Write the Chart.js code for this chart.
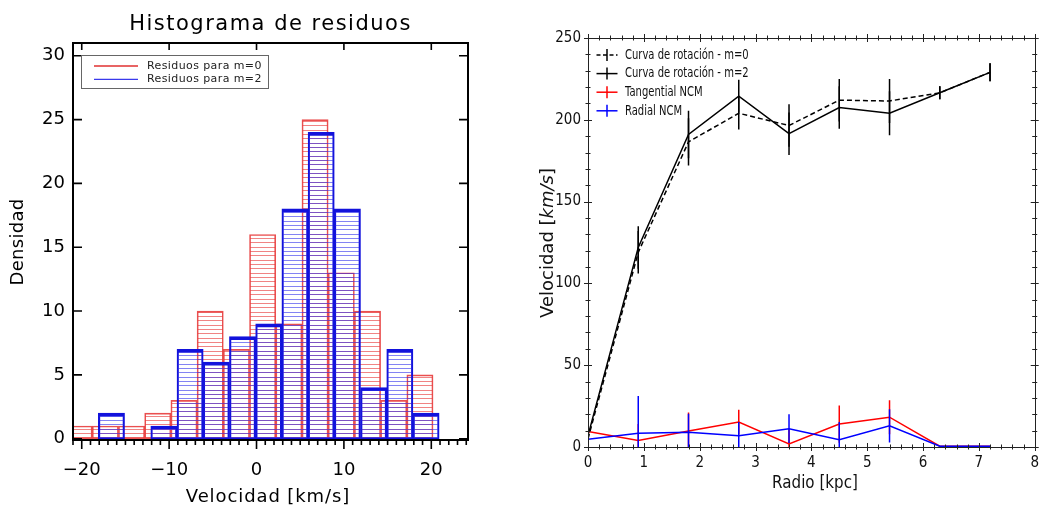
<!DOCTYPE html>
<html>
<head>
<meta charset="utf-8">
<script src="https://cdn.jsdelivr.net/npm/chart.js@4.4.1/dist/chart.umd.min.js"></script>
<style>
  html, body { margin: 0; padding: 0; background: #fff; }
  #wrap { position: relative; width: 1046px; height: 509px; overflow: hidden; }
  #histo { position: absolute; left: 0; top: 0; }
  #curva { position: absolute; left: 520px; top: 0; }
</style>
</head>
<body>
<div id="wrap">
  <canvas id="histo" width="520" height="509"></canvas>
  <canvas id="curva" width="526" height="509"></canvas>
</div>
<script>
/* ---- Histograma de residuos (panel izquierdo) ---- */
const centrosM0 = [-20.3, -17.3, -14.3, -11.3, -8.3, -5.3, -2.3, 0.7, 3.7, 6.7, 9.7, 12.7, 15.7, 18.7];
const densidadM0 = [1, 1, 1, 2, 3, 10, 7, 16, 9, 25, 13, 10, 3, 5];
const centrosM2 = [-16.6, -13.6, -10.6, -7.6, -4.6, -1.6, 1.4, 4.4, 7.4, 10.4, 13.4, 16.4, 19.4];
const densidadM2 = [2, 0, 1, 7, 6, 8, 9, 18, 24, 18, 4, 7, 2];
const ticksResiduo = [-20, -10, 0, 10, 20];
const ticksDensidad = [0, 5, 10, 15, 20, 25, 30];

/* ---- Curva de rotación (panel derecho) ---- */
const radio = [0, 0.9, 1.8, 2.7, 3.6, 4.5, 5.4, 6.3, 7.2];
const vrotM0 = [5, 119, 186.5, 204, 196.5, 212, 211.5, 216.5, 229];
const vrotM2 = [7, 122, 191, 214.5, 191.5, 207.5, 204, 216.5, 229];
const errRotM0 = [0, 13, 14.5, 10, 13, 13, 13.5, 4, 5.5];
const errRotM2 = [0, 13, 14.5, 10, 13, 13, 13.5, 4, 5.5];
const vTangencial = [9.5, 4, 9.8, 15.2, 1.8, 14, 18.2, 0.5, 0.5];
const errTangencial = [24, 10, 11.3, 7.6, 9, 11.4, 10.4, 0, 0];
const vRadial = [4.8, 8.4, 9, 6.9, 11.2, 4.5, 12.9, 0.5, 0.5];
const errRadial = [25.7, 22.8, 11.4, 8.4, 8.8, 10.8, 10.1, 0, 0];
const ticksRadio = [0, 1, 2, 3, 4, 5, 6, 7, 8];
const ticksVelocidad = [0, 50, 100, 150, 200, 250];

const fuente = '"DejaVu Sans", sans-serif';
const fuenteEstrecha = '"DejaVu Sans Condensed", "Liberation Sans Narrow", "DejaVu Sans", sans-serif';
const puntos = (xs, ys) => xs.map((v, i) => ({ x: v, y: ys[i] }));
const fijarTicks = lista => s => { s.ticks = lista.map(v => ({ value: v })); };

// patrón de rayado horizontal para las barras
function rayado(color) {
  const c = document.createElement('canvas');
  c.width = 4; c.height = 13;
  const g = c.getContext('2d');
  g.fillStyle = color;
  [0, 4, 8].forEach(y => g.fillRect(0, y, 4, 1));
  return g.createPattern(c, 'repeat');
}

// ---- marco, marcas, título y leyenda del histograma ----
const marcoHisto = {
  id: 'marcoHisto',
  afterDraw(chart) {
    const { ctx, chartArea: a, scales: { x, y } } = chart;
    ctx.save();
    ctx.strokeStyle = '#000';
    ctx.lineWidth = 2;
    ctx.strokeRect(a.left, a.top, a.width, a.height);
    ctx.lineWidth = 1.6;
    ctx.beginPath();
    for (let v = Math.ceil(x.min); v <= x.max; v++) {
      const px = x.getPixelForValue(v);
      const mayor = ticksResiduo.includes(v);
      ctx.moveTo(px, a.bottom);
      ctx.lineTo(px, a.bottom + (mayor ? 9 : 5));
      if (mayor) { ctx.moveTo(px, a.top); ctx.lineTo(px, a.top + 7); }
    }
    ticksDensidad.forEach(v => {
      const py = y.getPixelForValue(v);
      ctx.moveTo(a.left, py); ctx.lineTo(a.left + 9, py);
      ctx.moveTo(a.right, py); ctx.lineTo(a.right - 9, py);
    });
    ctx.stroke();

    ctx.fillStyle = '#000';
    ctx.textAlign = 'center';
    ctx.textBaseline = 'middle';
    ctx.letterSpacing = '1.5px';
    ctx.font = '21px ' + fuente;
    ctx.fillText('Histograma de residuos', (a.left + a.right) / 2, 25);
    ctx.letterSpacing = '0.9px';
    ctx.font = '18px ' + fuente;
    ctx.fillText('Velocidad [km/s]', 268, 497);
    ctx.letterSpacing = '0.3px';
    ctx.save();
    ctx.translate(18, 242);
    ctx.rotate(-Math.PI / 2);
    ctx.fillText('Densidad', 0, 0);
    ctx.restore();

    // leyenda
    ctx.letterSpacing = '0.4px';
    ctx.strokeStyle = '#666';
    ctx.lineWidth = 1;
    ctx.strokeRect(81.5, 55.5, 187, 33);
    ctx.font = '11px ' + fuente;
    ctx.textAlign = 'left';
    [...chart.data.datasets].reverse().forEach((ds, i) => {
      const yy = 66 + i * 13.3;
      ctx.strokeStyle = ds.colorLeyenda;
      ctx.lineWidth = 1.3;
      ctx.beginPath();
      ctx.moveTo(94, yy); ctx.lineTo(138, yy);
      ctx.stroke();
      ctx.fillStyle = '#222';
      ctx.fillText(ds.label, 147, yy);
    });
    ctx.restore();
  }
};

new Chart(document.getElementById('histo'), {
  type: 'bar',
  data: {
    datasets: [
      {
        label: 'Residuos para m=2', xAxisID: 'x2',
        data: puntos(centrosM2, densidadM2),
        backgroundColor: rayado('rgba(50,50,235,0.6)'),
        borderColor: '#1212dc', colorLeyenda: '#3a3aec',
        borderWidth: { top: 3, left: 1.5, right: 1.5, bottom: 1 },
        borderSkipped: false, grouped: false, clip: 0
      },
      {
        label: 'Residuos para m=0', xAxisID: 'x',
        data: puntos(centrosM0, densidadM0),
        backgroundColor: rayado('rgba(230,50,50,0.6)'),
        borderColor: 'rgba(232,60,60,0.9)', colorLeyenda: '#e03030',
        borderWidth: 1,
        borderSkipped: false, grouped: false, clip: 0
      }
    ]
  },
  options: {
    responsive: false, animation: false,
    barPercentage: 1, categoryPercentage: 1,
    layout: { padding: { top: 43, right: 52, left: 0, bottom: 0 } },
    plugins: { legend: { display: false }, tooltip: { enabled: false } },
    scales: {
      x: {
        type: 'linear', min: -21, max: 24.2, offset: false,
        afterBuildTicks: fijarTicks(ticksResiduo),
        afterFit: s => { s.height = 69; },
        grid: { display: false, drawTicks: false }, border: { display: false },
        ticks: {
          color: '#000', padding: 20, font: { family: fuente, size: 18 },
          callback: v => String(v).replace('-', '\u2212')
        }
      },
      x2: {
        type: 'linear', min: -21, max: 24.2, offset: false, display: false,
        afterBuildTicks: fijarTicks(ticksResiduo)
      },
      y: {
        min: -0.1, max: 31,
        afterBuildTicks: fijarTicks(ticksDensidad),
        afterFit: s => { s.width = 73; },
        grid: { display: false, drawTicks: false }, border: { display: false },
        ticks: { color: '#000', padding: 8, font: { family: fuente, size: 18 } }
      }
    }
  },
  plugins: [marcoHisto]
});

// ---- curva de rotación: barras de error, marco, leyenda y títulos ----
const marcoCurva = {
  id: 'marcoCurva',
  afterDatasetDraw(chart, args) {
    const ds = chart.data.datasets[args.index];
    if (!ds.errores) return;
    const { ctx, chartArea: a, scales: { x, y } } = chart;
    ctx.save();
    ctx.beginPath();
    ctx.rect(a.left, a.top, a.width, a.height);
    ctx.clip();
    ctx.strokeStyle = ds.borderColor;
    ctx.lineWidth = 1.5;
    ctx.beginPath();
    ds.data.forEach((p, i) => {
      const e = ds.errores[i];
      if (!e) return;
      const px = x.getPixelForValue(p.x);
      ctx.moveTo(px, y.getPixelForValue(p.y - e));
      ctx.lineTo(px, y.getPixelForValue(p.y + e));
    });
    ctx.stroke();
    ctx.restore();
  },
  afterDraw(chart) {
    const { ctx, chartArea: a, scales: { x, y } } = chart;
    ctx.save();
    ctx.strokeStyle = '#222';
    ctx.lineWidth = 1;
    ctx.strokeRect(Math.round(a.left) + 0.5, Math.round(a.top) + 0.5, Math.round(a.width), Math.round(a.height));
    ctx.beginPath();
    const nx = Math.round((x.max - x.min) / 0.2);
    for (let k = 0; k <= nx; k++) {
      const px = Math.round(x.getPixelForValue(x.min + k * 0.2)) + 0.5;
      const l = k % 5 === 0 ? 4 : 2.5;
      ctx.moveTo(px, a.bottom - l); ctx.lineTo(px, a.bottom + l);
      ctx.moveTo(px, a.top - l); ctx.lineTo(px, a.top + l);
    }
    const ny = Math.round((y.max - y.min) / 10);
    for (let k = 0; k <= ny; k++) {
      const py = Math.round(y.getPixelForValue(y.min + k * 10)) + 0.5;
      const l = k % 5 === 0 ? 4 : 2.5;
      ctx.moveTo(a.left - l, py); ctx.lineTo(a.left + l, py);
      ctx.moveTo(a.right - l, py); ctx.lineTo(a.right + l, py);
    }
    ctx.stroke();

    // leyenda
    ctx.textAlign = 'left';
    ctx.textBaseline = 'middle';
    ctx.font = '14.5px ' + fuente;
    chart.data.datasets.forEach((ds, i) => {
      const yy = 55 + i * 18.6;
      ctx.strokeStyle = ds.borderColor;
      ctx.lineWidth = 1.5;
      ctx.setLineDash(ds.borderDash ? [4, 2.5] : []);
      ctx.beginPath();
      ctx.moveTo(76.5, yy); ctx.lineTo(97.5, yy);
      ctx.stroke();
      ctx.setLineDash([]);
      ctx.beginPath();
      ctx.moveTo(87, yy - 6); ctx.lineTo(87, yy + 6);
      ctx.stroke();
      ctx.fillStyle = '#111';
      ctx.save();
      ctx.translate(105, yy);
      ctx.scale(0.69, 1);
      ctx.fillText(ds.label, 0, 0);
      ctx.restore();
    });

    // títulos de ejes
    ctx.fillStyle = '#111';
    ctx.textAlign = 'center';
    ctx.save();
    ctx.translate(295, 483);
    ctx.scale(0.84, 1);
    ctx.font = '18px ' + fuente;
    ctx.fillText('Radio [kpc]', 0, 0);
    ctx.restore();

    const partes = [['Velocidad [', '18px '], ['km/s', 'italic 18px '], [']', '18px ']];
    let total = 0;
    partes.forEach(p => { ctx.font = p[1] + fuente; total += ctx.measureText(p[0]).width; });
    ctx.save();
    ctx.translate(28, 243);
    ctx.rotate(-Math.PI / 2);
    ctx.textAlign = 'left';
    let cx = -total / 2;
    partes.forEach(p => {
      ctx.font = p[1] + fuente;
      ctx.fillText(p[0], cx, 0);
      cx += ctx.measureText(p[0]).width;
    });
    ctx.restore();
    ctx.restore();
  }
};

new Chart(document.getElementById('curva'), {
  type: 'line',
  data: {
    datasets: [
      { label: 'Curva de rotación - m=0', data: puntos(radio, vrotM0), errores: errRotM0,
        borderColor: '#000', borderDash: [5, 3], order: 4 },
      { label: 'Curva de rotación - m=2', data: puntos(radio, vrotM2), errores: errRotM2,
        borderColor: '#000', order: 3 },
      { label: 'Tangential NCM', data: puntos(radio, vTangencial), errores: errTangencial,
        borderColor: '#ff0000', order: 2 },
      { label: 'Radial NCM', data: puntos(radio, vRadial), errores: errRadial,
        borderColor: '#0000ff', order: 1 }
    ]
  },
  options: {
    responsive: false, animation: false,
    elements: { line: { borderWidth: 1.5, tension: 0 }, point: { radius: 0 } },
    layout: { padding: { top: 38, right: 3, left: 0, bottom: 0 } },
    plugins: { legend: { display: false }, tooltip: { enabled: false } },
    scales: {
      x: {
        type: 'linear', min: 0, max: 8,
        afterBuildTicks: fijarTicks(ticksRadio),
        afterFit: s => { s.height = 62; },
        grid: { display: false, drawTicks: false }, border: { display: false },
        ticks: { color: '#111', padding: 7, font: { family: fuenteEstrecha, size: 15 } }
      },
      y: {
        min: 0, max: 250,
        afterBuildTicks: fijarTicks(ticksVelocidad),
        afterFit: s => { s.width = 68; },
        grid: { display: false, drawTicks: false }, border: { display: false },
        ticks: { color: '#111', padding: 7, font: { family: fuenteEstrecha, size: 15 } }
      }
    }
  },
  plugins: [marcoCurva]
});
</script>
</body>
</html>
